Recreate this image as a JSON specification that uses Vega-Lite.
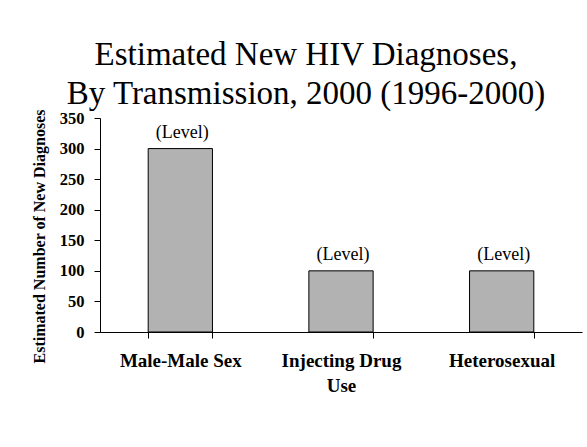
{
  "$schema": "https://vega.github.io/schema/vega-lite/v6.json",
  "autosize": "none",
  "width": 482,
  "height": 214,
  "padding": {"left": 100, "top": 118, "right": 5, "bottom": 115},
  "background": "white",
  "title": {
    "text": ["Estimated New HIV Diagnoses,", "By Transmission, 2000 (1996-2000)"],
    "font": "Times New Roman, Liberation Serif, serif",
    "fontSize": 33,
    "fontWeight": "normal",
    "color": "black",
    "lineHeight": 39,
    "anchor": "middle",
    "dx": -35,
    "offset": -2
  },
  "data": {
    "values": [
      {"group": "Male-Male Sex", "value": 300, "label": "(Level)"},
      {"group": "Injecting Drug Use", "value": 100, "label": "(Level)"},
      {"group": "Heterosexual", "value": 100, "label": "(Level)"}
    ]
  },
  "config": {
    "font": "Liberation Serif",
    "view": {"stroke": null},
    "axis": {"grid": false, "domainColor": "black", "tickColor": "black", "labelColor": "black", "titleColor": "black"}
  },
  "encoding": {
    "x": {
      "field": "group",
      "type": "nominal",
      "sort": null,
      "scale": {"paddingInner": 0.6, "paddingOuter": 0.3},
      "axis": {
        "title": null,
        "labelAngle": 0,
        "labelFont": "Liberation Serif",
        "labelFontSize": 19,
        "labelFontWeight": "bold",
        "labelPadding": 13,
        "labelLineHeight": 25,
        "labelBaseline": "top",
        "tickBand": "extent",
        "tickSize": 6,
        "labelExpr": "datum.value == 'Injecting Drug Use' ? ['Injecting Drug', 'Use'] : datum.value"
      }
    },
    "y": {
      "field": "value",
      "type": "quantitative",
      "scale": {"domain": [0, 350], "nice": false},
      "axis": {
        "title": "Estimated Number of New Diagnoses",
        "titleFont": "Liberation Serif",
        "titleFontSize": 16,
        "titleFontWeight": "bold",
        "titleY": 118,
        "titlePadding": 12,
        "values": [0, 50, 100, 150, 200, 250, 300, 350],
        "labelFont": "Liberation Serif",
        "labelFontSize": 16.5,
        "labelFontWeight": "bold",
        "labelPadding": 10,
        "tickSize": 6
      }
    }
  },
  "layer": [
    {"mark": {"type": "bar", "fill": "#b2b2b2", "stroke": "black", "strokeWidth": 1}},
    {
      "mark": {"type": "text", "font": "Liberation Serif", "fontSize": 18, "color": "black", "baseline": "alphabetic", "dy": -11, "dx": 2},
      "encoding": {"text": {"field": "label"}}
    }
  ]
}
